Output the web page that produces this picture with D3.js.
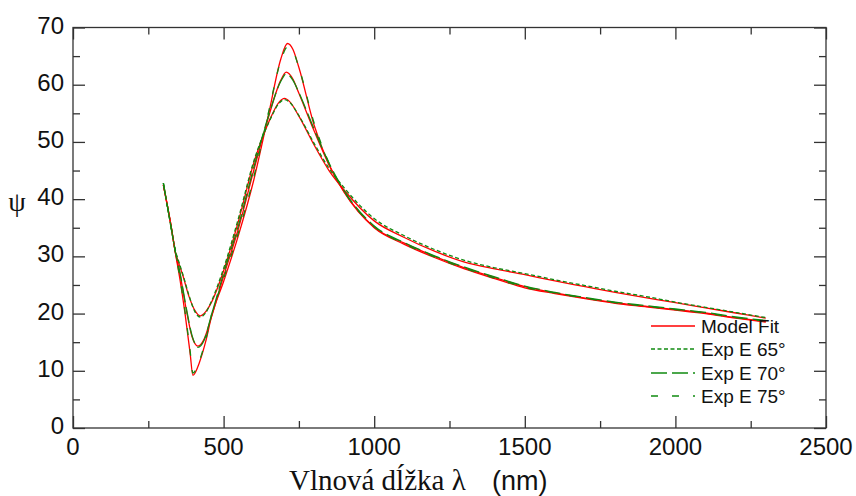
<!DOCTYPE html>
<html>
<head>
<meta charset="utf-8">
<script src="https://cdn.jsdelivr.net/npm/d3@7"></script>
<style>
  body { margin: 0; background: #fff; }
  text { font-family: "Liberation Sans", Arial, sans-serif; fill: #111; }
</style>
</head>
<body>
<div id="chart"></div>
<script>
// wavelength (nm) / psi (deg)
const fit65 = [[300,42.5],[325,35.5],[340,30.8],[350,29],[365,26.6],[385,23],[405,20.5],[422,19.6],[440,20.3],[460,22],[500,27.5],[550,36.3],[600,46.3],[650,53.5],[685,57],[702,57.6],[720,57],[750,54.5],[800,49.5],[850,45],[900,41.6],[1000,36.2],[1100,33.3],[1200,30.9],[1300,29.0],[1400,27.8],[1500,26.8],[1600,25.7],[1700,24.7],[1800,23.7],[1900,22.8],[2000,21.9],[2100,21.0],[2200,20.1],[2300,19.2]];
const fit70 = [[300,42.5],[325,35.5],[340,30.6],[355,27],[375,21],[395,16],[415,14.3],[435,15.5],[460,19.5],[500,26.5],[550,35],[600,45],[650,54.5],[690,60.8],[708,62.2],[730,61],[750,58.5],[800,52],[850,46],[900,41.3],[1000,35.1],[1100,32.3],[1200,30.0],[1300,28.0],[1400,26.3],[1500,24.7],[1600,23.6],[1700,22.7],[1800,21.9],[1900,21.3],[2000,20.7],[2100,20.1],[2200,19.3],[2300,18.6]];
const fit75 = [[300,42.5],[325,35.5],[340,30.6],[355,26],[372,20],[389,13],[398,9.2],[420,11.5],[440,15],[460,19.5],[500,25.6],[550,33.8],[600,43.3],[650,55],[690,64.5],[712,67.2],[730,66.2],[750,63],[800,53],[850,46],[900,41.2],[1000,35.0],[1100,32.1],[1200,29.8],[1300,27.8],[1400,26.1],[1500,24.5],[1600,23.5],[1700,22.6],[1800,21.8],[1900,21.2],[2000,20.6],[2100,20.0],[2200,19.2],[2300,18.5]];

const exp65 = [[300,42.8],[325,35.2],[340,31],[350,29.3],[365,26.8],[385,23.2],[405,20.3],[422,19.4],[440,20.1],[460,22.2],[500,27.9],[550,36.8],[600,46.6],[650,53.4],[685,56.8],[702,57.4],[720,56.9],[750,54.6],[800,49.8],[850,45.4],[900,42],[1000,36.6],[1100,33.6],[1200,31.2],[1300,29.3],[1400,28.0],[1500,27.0],[1600,25.9],[1700,24.9],[1800,23.9],[1900,23.0],[2000,22.0],[2100,21.1],[2200,20.2],[2300,19.3]];
const exp70 = [[300,42.8],[325,35.3],[340,30.8],[355,27.2],[375,21.3],[395,16.2],[415,14.1],[435,15.3],[460,19.8],[500,27],[550,35.5],[600,45.5],[650,54.7],[690,60.6],[708,61.9],[730,60.8],[750,58.6],[800,52.3],[850,46.3],[900,41.5],[1000,35.3],[1100,32.4],[1200,30.1],[1300,28.1],[1400,26.4],[1500,24.8],[1600,23.7],[1700,22.8],[1800,22.0],[1900,21.4],[2000,20.8],[2100,20.2],[2200,19.4],[2300,18.8]];
const exp75 = [[300,42.8],[325,35.3],[340,30.8],[355,26.2],[372,20.3],[389,13.4],[398,9.6],[420,11.8],[440,15.3],[460,19.8],[500,26.1],[550,34.3],[600,43.8],[650,55.4],[690,64.2],[712,66.6],[730,65.9],[750,63],[800,53.4],[850,46.3],[900,41.4],[1000,35.2],[1100,32.2],[1200,29.9],[1300,27.9],[1400,26.2],[1500,24.6],[1600,23.6],[1700,22.7],[1800,21.9],[1900,21.3],[2000,20.7],[2100,20.1],[2200,19.3],[2300,18.7]];

const xTicks = [0, 500, 1000, 1500, 2000, 2500];
const yTicks = [0, 10, 20, 30, 40, 50, 60, 70];
const legendLabels = ['Model Fit', 'Exp E 65°', 'Exp E 70°', 'Exp E 75°'];

const W = 856, H = 496;
const margin = {left: 73, right: 30, top: 27.5, bottom: 68};

const svg = d3.select('#chart').append('svg')
  .attr('width', W)
  .attr('height', H);

const x = d3.scaleLinear().domain([0, 2500]).range([margin.left, W - margin.right]);
const y = d3.scaleLinear().domain([0, 70]).range([H - margin.bottom, margin.top]);

const line = d3.line()
  .x(d => x(d[0]))
  .y(d => y(d[1]))
  .curve(d3.curveMonotoneX);

const red = '#ff0000', green = '#108a10';
const dash = {e65: '4,2.5', e70: '16,5', e75: '7,14'};

// curves
const plot = svg.append('g');
[fit65, fit70, fit75].forEach(d => {
  plot.append('path').datum(d)
    .attr('d', line)
    .attr('fill', 'none')
    .attr('stroke', red)
    .attr('stroke-width', 1.3);
});
[[exp65, dash.e65], [exp70, dash.e70], [exp75, dash.e75]].forEach(([d, da]) => {
  plot.append('path').datum(d)
    .attr('d', line)
    .attr('fill', 'none')
    .attr('stroke', green)
    .attr('stroke-width', 1.3)
    .attr('stroke-dasharray', da);
});

// frame + inward ticks
const axisColor = '#333';
const minorX = d3.range(250, 2500, 500);
const minorY = d3.range(5, 70, 10);

const addAxis = (axis, pos, major, minor) => {
  const g = svg.append('g').attr('transform', pos);
  g.call(axis.tickValues(major).tickSize(-12).tickFormat(''));
  g.append('g').call(axis.tickValues(minor).tickSize(-7).tickFormat(''));
  g.selectAll('path').remove();
  g.selectAll('line').attr('stroke', axisColor).attr('stroke-width', 1.3);
  return g;
};
addAxis(d3.axisBottom(x), `translate(0,${y(0)})`, xTicks, minorX);
addAxis(d3.axisTop(x), `translate(0,${y(70)})`, xTicks, minorX);
addAxis(d3.axisLeft(y), `translate(${x(0)},0)`, yTicks, minorY);
addAxis(d3.axisRight(y), `translate(${x(2500)},0)`, yTicks, minorY);

svg.append('rect')
  .attr('x', x(0)).attr('y', y(70))
  .attr('width', x(2500) - x(0)).attr('height', y(0) - y(70))
  .attr('fill', 'none')
  .attr('stroke', axisColor)
  .attr('stroke-width', 1.3);

// tick labels
svg.append('g').selectAll('text').data(xTicks).join('text')
  .attr('x', d => x(d))
  .attr('y', y(0) + 27)
  .attr('text-anchor', 'middle')
  .style('font-size', '24px')
  .text(d => d);

svg.append('g').selectAll('text').data(yTicks).join('text')
  .attr('x', x(0) - 9)
  .attr('y', d => y(d) + 6)
  .attr('text-anchor', 'end')
  .style('font-size', '24px')
  .text(d => d);

// axis titles
svg.append('text')
  .attr('x', 17)
  .attr('y', y(40) + 12)
  .attr('text-anchor', 'middle')
  .style('font-family', '"Liberation Serif", "Times New Roman", serif')
  .style('font-size', '28px')
  .text('ψ');

const xt = svg.append('text')
  .attr('x', 289)
  .attr('y', 490);
xt.append('tspan')
  .style('font-family', '"Liberation Serif", "Times New Roman", serif')
  .style('font-size', '29px')
  .text('Vlnová dĺžka λ');
xt.append('tspan')
  .attr('x', 492)
  .style('font-size', '27px')
  .text('(nm)');

// legend
const legY = [326, 349, 373, 396];
const legStyle = [
  {c: red, da: null},
  {c: green, da: dash.e65},
  {c: green, da: dash.e70},
  {c: green, da: dash.e75}
];
const leg = svg.append('g');
legendLabels.forEach((t, i) => {
  leg.append('line')
    .attr('x1', 651).attr('x2', 695)
    .attr('y1', legY[i]).attr('y2', legY[i])
    .attr('stroke', legStyle[i].c)
    .attr('stroke-width', 1.3)
    .attr('stroke-dasharray', legStyle[i].da);
  leg.append('text')
    .attr('x', 701)
    .attr('y', legY[i] + 7)
    .style('font-size', '19px')
    .text(t);
});
</script>
</body>
</html>
